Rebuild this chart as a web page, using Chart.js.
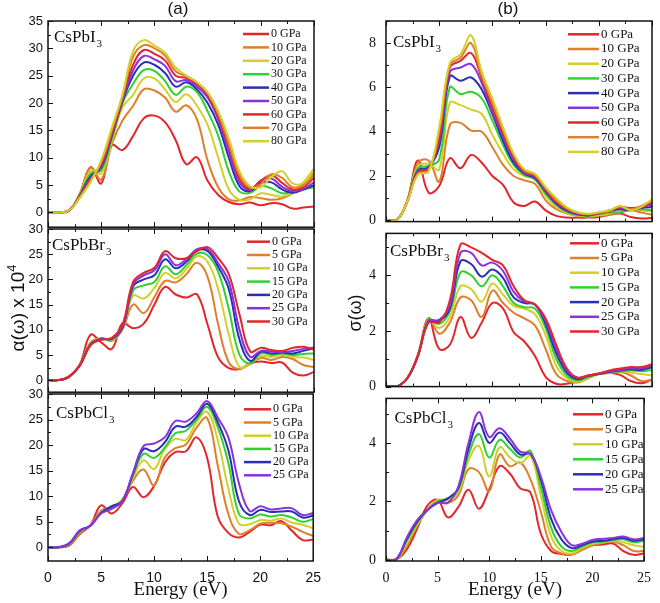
<!DOCTYPE html>
<html>
<head>
<meta charset="utf-8">
<script src="https://cdn.jsdelivr.net/npm/chart.js@4.4.0/dist/chart.umd.min.js"></script>
<style>
  body { margin: 0; background: #fff; }
  #wrap { position: relative; width: 660px; height: 603px; }
  canvas { position: absolute; }
</style>
</head>
<body>
<div id="wrap">
  <canvas id="pA1" width="330" height="240" style="left:0;top:0"></canvas>
  <canvas id="pB1" width="330" height="240" style="left:330px;top:0"></canvas>
  <canvas id="pA2" width="330" height="190" style="left:0;top:215px"></canvas>
  <canvas id="pB2" width="330" height="190" style="left:330px;top:215px"></canvas>
  <canvas id="pA3" width="330" height="223" style="left:0;top:380px"></canvas>
  <canvas id="pB3" width="330" height="223" style="left:330px;top:380px"></canvas>
</div>
<script>
// photon energy grid (eV)
const energy = [0,1,2,3,4,5,6,7,8,9,10,11,12,13,14,15,16,17,18,19,20,21,22,23,24,25];

const pressI = ['0 GPa','10 GPa','20 GPa','30 GPa','40 GPa','50 GPa','60 GPa','70 GPa','80 GPa'];
const pressBr = ['0 GPa','5 GPa','10 GPa','15 GPa','20 GPa','25 GPa','30 GPa'];
const pressCl = ['0 GPa','5 GPa','10 GPa','15 GPa','20 GPa','25 GPa'];

// (a) absorption, CsPbI3
const absI_0  = [0,0,0.3,3.5,8.3,5.3,12.3,11.4,14.0,17.2,17.7,16.5,13.2,8.8,10.1,5.8,3.2,1.9,1.5,1.8,1.3,1.7,1.5,0.7,0.9,1.1];
const absI_10 = [0,0,0.4,3.4,8.2,6.0,12.5,16.8,19.5,22.5,22.3,21.0,18.4,19.6,17.0,9.5,4.6,2.4,2.2,2.8,2.6,2.3,2.6,3.5,5.3,7.3];
const absI_20 = [0,0,0.4,3.3,7.6,7.1,13.0,19.2,21.5,24.5,24.5,22.5,20.2,21.6,19.5,16.0,10.0,4.2,2.3,2.4,3.5,3.2,2.9,3.6,5.5,8.0];
const absI_30 = [0,0,0.4,3.2,7.1,7.7,13.5,20.0,23.5,26.0,25.9,24.0,21.5,23.0,22.0,18.5,14.0,7.5,3.8,3.6,4.8,4.4,3.5,3.8,4.2,4.6];
const absI_40 = [0,0,0.4,3.1,6.6,8.2,14.0,20.3,25.0,27.4,27.0,25.5,23.0,23.8,22.5,20.0,16.0,10.0,4.8,3.9,5.4,5.5,4.2,3.6,4.2,5.0];
const absI_50 = [0,0,0.4,3.0,6.3,8.5,14.3,20.5,26.0,28.6,28.0,26.8,24.0,24.2,23.0,21.0,17.0,11.0,5.5,4.1,5.8,6.2,4.7,3.9,4.3,5.5];
const absI_60 = [0,0,0.4,2.9,6.0,8.8,14.5,21.0,27.0,29.7,29.0,27.8,25.0,24.6,23.5,21.5,17.5,12.0,6.2,4.3,5.8,6.8,5.4,4.2,4.6,6.3];
const absI_70 = [0,0,0.4,2.8,5.8,9.2,15.0,21.3,28.5,30.6,30.0,28.7,25.8,24.9,23.8,21.8,18.0,12.5,6.8,4.5,5.2,7.0,6.3,4.6,5.0,6.8];
const absI_80 = [0,0,0.4,2.7,5.5,9.5,15.5,21.5,29.5,31.5,30.5,29.2,26.5,25.0,23.8,22.0,18.5,13.5,7.5,4.8,4.6,6.5,7.5,5.3,5.4,7.8];

// (b) conductivity, CsPbI3
const sigI_0  = [0,0,0.9,2.7,1.25,1.55,2.8,2.35,2.95,2.6,2.0,1.6,0.8,0.65,0.85,0.45,0.2,0.12,0.12,0.12,0.15,0.25,0.3,0.15,0.08,0.1];
const sigI_10 = [0,0,0.85,2.6,2.7,1.75,4.3,4.4,4.05,4.0,3.3,2.5,2.0,1.8,1.65,0.9,0.5,0.3,0.2,0.16,0.2,0.25,0.35,0.45,0.35,0.25];
const sigI_20 = [0,0,0.85,2.45,2.55,2.3,5.3,5.2,5.0,4.8,3.85,3.0,2.3,2.0,1.85,1.1,0.6,0.33,0.22,0.18,0.22,0.3,0.45,0.55,0.45,0.4];
const sigI_30 = [0,0,0.85,2.35,2.45,2.75,6.0,5.7,5.8,5.5,4.5,3.4,2.5,2.05,1.85,1.2,0.7,0.38,0.25,0.2,0.28,0.35,0.35,0.5,0.5,0.45];
const sigI_40 = [0,0,0.85,2.25,2.4,3.3,6.5,6.3,6.45,5.9,4.8,3.6,2.6,2.1,1.9,1.3,0.75,0.42,0.27,0.22,0.32,0.4,0.5,0.45,0.55,0.6];
const sigI_50 = [0,0,0.85,2.2,2.35,3.55,6.7,6.9,7.05,6.2,4.9,3.8,2.75,2.15,1.95,1.35,0.8,0.46,0.3,0.24,0.3,0.45,0.55,0.5,0.6,0.7];
const sigI_60 = [0,0,0.85,2.15,2.3,3.75,6.9,7.2,7.55,6.4,5.1,3.9,2.85,2.2,2.0,1.4,0.85,0.5,0.32,0.26,0.32,0.4,0.6,0.55,0.6,0.8];
const sigI_70 = [0,0,0.85,2.1,2.25,4.0,7.0,7.35,8.0,6.5,5.3,4.05,2.95,2.25,2.05,1.45,0.9,0.54,0.34,0.28,0.34,0.42,0.62,0.5,0.65,0.88];
const sigI_80 = [0,0,0.85,2.05,2.2,4.2,7.1,7.5,8.35,6.7,5.5,4.2,3.0,2.3,2.1,1.5,1.0,0.58,0.36,0.29,0.36,0.45,0.65,0.45,0.6,0.95];

// (a) absorption, CsPbBr3
const absBr_0  = [0,0,0.8,3.2,9.0,7.5,6.2,11.3,10.3,11.2,15.0,18.5,17.0,16.4,17.0,11.0,4.5,2.4,2.2,3.3,3.7,3.4,3.5,1.5,0.9,1.6];
const absBr_5  = [0,0,0.7,3.1,7.5,8.3,7.8,10.0,15.0,13.3,16.5,19.7,19.4,21.0,23.3,20.5,11.0,3.5,2.2,3.2,4.4,4.0,4.6,4.2,3.0,2.6];
const absBr_10 = [0,0,0.7,3.0,7.3,8.2,8.0,10.2,16.8,16.2,18.3,21.3,20.2,22.0,24.6,23.5,18.0,9.0,2.6,3.3,4.8,4.6,5.0,4.6,4.5,4.0];
const absBr_15 = [0,0,0.7,3.0,7.2,8.2,8.1,10.3,17.8,18.8,19.5,22.6,21.0,22.8,25.1,24.8,21.5,14.0,5.0,3.3,5.3,5.0,5.3,5.0,5.2,5.3];
const absBr_20 = [0,0,0.7,2.9,7.1,8.2,8.2,10.4,18.6,20.0,20.8,24.0,22.2,23.5,25.7,25.6,22.5,18.0,8.0,3.8,5.6,5.3,5.5,5.3,5.8,6.3];
const absBr_25 = [0,0,0.7,2.9,7.0,8.1,8.3,10.5,19.0,20.8,21.8,25.0,22.8,24.0,26.0,26.0,23.2,19.5,10.0,4.6,5.8,5.7,5.6,5.8,6.2,6.5];
const absBr_30 = [0,0,0.7,2.9,6.9,8.0,8.4,11.0,19.5,21.3,22.3,25.6,24.2,24.2,25.6,26.4,24.2,21.0,13.0,5.7,6.4,6.0,5.8,6.4,6.6,6.0];

// (b) conductivity, CsPbBr3
const sigBr_0  = [0,0,0.3,1.15,2.45,1.35,1.5,2.5,1.75,2.3,3.0,2.8,1.95,1.62,1.1,0.35,0.1,0.1,0.2,0.38,0.45,0.5,0.42,0.2,0.12,0.25];
const sigBr_5  = [0,0,0.3,1.15,2.45,1.9,2.3,3.2,3.1,2.5,3.45,3.0,2.65,2.45,2.2,1.35,0.45,0.2,0.15,0.3,0.45,0.48,0.52,0.4,0.2,0.25];
const sigBr_10 = [0,0,0.3,1.12,2.4,2.1,2.5,3.6,3.5,3.05,3.7,3.3,2.9,2.8,2.6,1.85,0.75,0.3,0.17,0.32,0.45,0.5,0.55,0.5,0.45,0.4];
const sigBr_15 = [0,0,0.3,1.1,2.4,2.25,2.7,4.1,4.0,3.6,4.0,3.6,3.0,2.85,2.8,2.1,1.0,0.4,0.22,0.35,0.45,0.52,0.55,0.58,0.55,0.6];
const sigBr_20 = [0,0,0.3,1.1,2.35,2.35,2.8,4.5,4.4,3.95,4.2,3.9,3.2,3.0,2.95,2.25,1.2,0.5,0.27,0.38,0.45,0.52,0.58,0.62,0.6,0.7];
const sigBr_25 = [0,0,0.3,1.1,2.35,2.4,2.9,4.8,4.8,4.35,4.45,4.15,3.4,3.05,2.95,2.35,1.35,0.6,0.32,0.4,0.47,0.55,0.6,0.66,0.65,0.75];
const sigBr_30 = [0,0,0.3,1.1,2.3,2.3,3.1,5.1,5.0,4.8,4.55,4.35,3.6,3.1,2.95,2.45,1.5,0.65,0.32,0.4,0.47,0.58,0.65,0.7,0.7,0.8];

// (a) absorption, CsPbCl3
const absCl_0  = [0,0,0.3,2.6,4.3,8.2,6.6,8.6,11.8,9.8,12.0,16.5,18.6,18.8,21.5,17.5,6.0,2.8,1.9,3.0,4.4,4.3,5.1,3.2,1.4,1.5];
const absCl_5  = [0,0,0.4,2.8,4.3,7.2,7.8,9.3,13.0,15.2,12.1,17.5,19.4,20.1,23.4,25.3,16.0,6.5,2.6,3.3,4.6,4.8,4.7,4.0,3.0,2.2];
const absCl_10 = [0,0,0.5,3.0,4.3,6.9,8.0,9.2,13.5,17.0,15.3,19.2,21.2,21.0,24.5,26.5,21.0,11.5,4.6,4.5,5.3,5.2,5.6,4.8,4.4,3.7];
const absCl_15 = [0,0,0.6,3.1,4.2,6.8,8.0,9.1,14.0,18.3,17.5,19.5,22.3,22.8,25.0,27.5,23.5,16.5,6.5,5.6,6.4,6.0,6.3,5.8,5.0,5.5];
const absCl_20 = [0,0,0.7,3.2,4.2,6.7,8.0,9.0,14.3,19.2,18.8,20.5,23.6,23.6,25.5,28.1,24.5,19.0,9.0,6.3,7.3,6.9,7.0,7.0,5.8,6.2];
const absCl_25 = [0,0,0.8,3.3,4.2,6.6,7.5,9.0,14.5,19.8,20.3,21.5,24.7,24.6,26.2,28.6,25.4,21.5,12.5,7.1,8.0,7.4,7.6,7.6,6.3,6.7];

// (b) conductivity, CsPbCl3
const sigCl_0  = [0,0.02,0.35,1.05,1.85,2.05,1.45,1.8,2.4,1.75,2.4,3.2,2.95,2.45,2.3,0.9,0.3,0.2,0.18,0.35,0.5,0.52,0.56,0.3,0.17,0.22];
const sigCl_5  = [0,0.02,0.45,1.15,1.7,2.05,1.95,2.2,3.1,3.0,2.35,3.6,3.2,3.33,2.75,1.65,0.45,0.22,0.18,0.35,0.5,0.58,0.62,0.5,0.3,0.3];
const sigCl_10 = [0,0.02,0.55,1.2,1.7,2.05,2.05,2.3,3.4,3.9,2.85,3.85,3.5,3.3,3.55,2.2,0.8,0.3,0.22,0.4,0.55,0.6,0.65,0.6,0.5,0.45];
const sigCl_15 = [0,0.02,0.65,1.25,1.7,2.0,2.1,2.4,3.6,4.3,3.5,4.1,3.8,3.5,3.72,2.5,1.1,0.45,0.3,0.45,0.6,0.62,0.68,0.7,0.6,0.65];
const sigCl_20 = [0,0.02,0.7,1.3,1.7,1.95,2.1,2.45,3.8,4.68,4.0,4.35,4.0,3.6,3.62,2.75,1.4,0.7,0.4,0.5,0.62,0.65,0.7,0.75,0.65,0.7];
const sigCl_25 = [0,0.02,0.75,1.35,1.7,1.95,1.95,2.5,4.0,5.05,4.2,4.5,4.15,3.7,3.62,2.85,1.7,0.95,0.5,0.55,0.68,0.72,0.75,0.8,0.7,0.75];

const lineColors = ['#e3262b','#df7f2c','#d3cf2b','#2fd12f','#2a2fb5','#8833dd','#e3262b','#df7f2c','#d3cf2b'];

const SERIF = "'Liberation Serif', 'Times New Roman', serif";
const SANS = "'Liberation Sans', Arial, sans-serif";

// frame, inward ticks, legend and labels drawn on top of the curves
const panelDecor = {
  id: 'panelDecor',
  afterDatasetsDraw(chart, args, o) {
    const ctx = chart.ctx;
    const a = chart.chartArea;
    const xs = chart.scales.x, ys = chart.scales.y;
    const ox = o.left, oy = o.top;
    ctx.save();
    ctx.strokeStyle = '#111';
    ctx.lineWidth = 1;
    ctx.beginPath();
    for (let v = 0; v <= 25; v += 2.5) {
      const px = Math.round(xs.getPixelForValue(v)) + 0.5;
      const len = v % 5 === 0 ? 5 : 3;
      ctx.moveTo(px, a.bottom); ctx.lineTo(px, a.bottom - len);
      ctx.moveTo(px, a.top); ctx.lineTo(px, a.top + len);
    }
    for (let v = 0; v <= ys.max + 1e-9; v += o.minor) {
      const py = Math.round(ys.getPixelForValue(v)) + 0.5;
      const major = Math.abs(v / o.major - Math.round(v / o.major)) < 1e-6;
      ctx.moveTo(a.left, py); ctx.lineTo(a.left + (major ? 5 : 3), py);
    }
    ctx.stroke();
    ctx.lineWidth = 1.5;
    ctx.strokeRect(a.left, a.top, a.right - a.left, a.bottom - a.top);

    // legend
    ctx.textAlign = 'left';
    ctx.textBaseline = 'middle';
    chart.data.datasets.forEach((ds, i) => {
      const y = o.legY - oy + i * o.legDy;
      ctx.strokeStyle = ds.borderColor;
      ctx.lineWidth = 2.5;
      ctx.beginPath();
      ctx.moveTo(o.legX1 - ox, y);
      ctx.lineTo(o.legX2 - ox, y);
      ctx.stroke();
      ctx.fillStyle = '#111';
      ctx.font = o.legFont;
      ctx.fillText(ds.label, o.legTx - ox, y);
    });

    // compound name with subscript
    ctx.textBaseline = 'alphabetic';
    ctx.fillStyle = '#111';
    ctx.font = '17px ' + SERIF;
    ctx.fillText(o.compound, o.compX - ox, o.compY - oy);
    const w = ctx.measureText(o.compound).width;
    ctx.font = '11px ' + SERIF;
    ctx.fillText('3', o.compX - ox + w + 1, o.compY - oy + 5);

    // extra texts
    (o.texts || []).forEach(t => {
      ctx.save();
      ctx.translate(t.x - ox, t.y - oy);
      if (t.rotate) ctx.rotate(-Math.PI / 2);
      ctx.font = t.font;
      const w1 = ctx.measureText(t.text).width;
      let w2 = 0;
      if (t.sup) { ctx.font = t.supFont; w2 = ctx.measureText(t.sup).width; }
      const start = -(w1 + w2) / 2;
      ctx.textAlign = 'left';
      ctx.textBaseline = 'middle';
      ctx.font = t.font;
      ctx.fillText(t.text, start, 0);
      if (t.sup) { ctx.font = t.supFont; ctx.fillText(t.sup, start + w1, -7); }
      ctx.restore();
    });
    ctx.restore();
  }
};

function makePanel(p) {
  const left = p.col === 'L';
  const datasets = p.series.map((vals, i) => ({
    label: p.labels[i],
    data: vals.map((v, k) => ({x: energy[k], y: v})),
    borderColor: lineColors[i],
    borderWidth: 2,
    pointRadius: 0,
    tension: 0.4,
    fill: false,
    order: p.series.length - i
  }));
  const tickFont = {family: left ? SANS : SERIF, size: left ? 13 : 14};
  const yTicks = [];
  for (let v = 0; v <= p.yMax + 1e-9; v += p.major) yTicks.push({value: v});

  new Chart(document.getElementById(p.id), {
    type: 'line',
    data: {datasets: datasets},
    options: {
      responsive: false,
      animation: false,
      devicePixelRatio: 1,
      layout: {padding: {left: 0, right: left ? 16 : 8, top: p.padT, bottom: p.padB}},
      plugins: {
        legend: {display: false},
        tooltip: {enabled: false},
        panelDecor: Object.assign({
          left: left ? 0 : 330, top: p.top,
          major: p.major, minor: p.minor,
          legFont: (left ? 12 : 13) + 'px ' + SERIF
        }, p.decor)
      },
      scales: {
        x: {
          type: 'linear', min: 0, max: 25,
          display: p.showX,
          grid: {display: false, drawTicks: false},
          border: {display: false},
          afterBuildTicks: s => { s.ticks = [0,5,10,15,20,25].map(v => ({value: v})); },
          afterFit: s => { if (p.showX) s.height = 42; },
          ticks: {padding: 9, font: {family: tickFont.family, size: 14}, color: '#111', maxRotation: 0},
          title: {display: true, text: 'Energy (eV)', color: '#111',
                  font: {family: SERIF, size: 19}, padding: {top: 0, bottom: 2}}
        },
        y: {
          type: 'linear', min: p.yMin, max: p.yMax,
          grid: {display: false, drawTicks: false},
          border: {display: false},
          afterBuildTicks: s => { s.ticks = yTicks.slice(); },
          afterFit: s => { s.width = left ? 48 : 56; },
          ticks: {padding: left ? 5 : 10, font: tickFont, color: '#111'}
        }
      }
    },
    plugins: [panelDecor]
  });
}

makePanel({
  id: 'pA1', col: 'L', top: 0, padT: 21, padB: 11, showX: false,
  series: [absI_0, absI_10, absI_20, absI_30, absI_40, absI_50, absI_60, absI_70, absI_80],
  labels: pressI, yMin: -2.7, yMax: 35, major: 5, minor: 2.5,
  decor: {legX1: 243, legX2: 269, legTx: 271, legY: 34, legDy: 13.4,
          compound: 'CsPbI', compX: 54, compY: 42,
          texts: [{text: '(a)', x: 178, y: 9, font: '17px ' + SANS}]}
});
makePanel({
  id: 'pB1', col: 'R', top: 0, padT: 21, padB: 11, showX: false,
  series: [sigI_0, sigI_10, sigI_20, sigI_30, sigI_40, sigI_50, sigI_60, sigI_70, sigI_80],
  labels: pressI, yMin: -0.06, yMax: 9, major: 2, minor: 1,
  decor: {legX1: 568, legX2: 599, legTx: 601, legY: 34.3, legDy: 14.7,
          compound: 'CsPbI', compX: 393, compY: 47,
          texts: [{text: '(b)', x: 508, y: 9, font: '17px ' + SANS}]}
});
makePanel({
  id: 'pA2', col: 'L', top: 215, padT: 14, padB: 11, showX: false,
  series: [absBr_0, absBr_5, absBr_10, absBr_15, absBr_20, absBr_25, absBr_30],
  labels: pressBr, yMin: -2.4, yMax: 30, major: 5, minor: 2.5,
  decor: {legX1: 247, legX2: 270, legTx: 272, legY: 241.7, legDy: 13.3,
          compound: 'CsPbBr', compX: 52, compY: 250,
          texts: [{text: '\u03b1(\u03c9) x 10', sup: '4', x: 19, y: 308, rotate: true,
                   font: '19px ' + SANS, supFont: '13px ' + SANS}]}
});
makePanel({
  id: 'pB2', col: 'R', top: 215, padT: 14, padB: 11, showX: false,
  series: [sigBr_0, sigBr_5, sigBr_10, sigBr_15, sigBr_20, sigBr_25, sigBr_30],
  labels: pressBr, yMin: 0, yMax: 5.5, major: 2, minor: 1,
  decor: {legX1: 570, legX2: 599, legTx: 601, legY: 243.3, legDy: 14.7,
          compound: 'CsPbBr', compX: 390, compY: 255.5,
          texts: [{text: '\u03c3(\u03c9)', x: 356, y: 313, rotate: true, font: '18px ' + SANS}]}
});
makePanel({
  id: 'pA3', col: 'L', top: 380, padT: 14, padB: 0, showX: true,
  series: [absCl_0, absCl_5, absCl_10, absCl_15, absCl_20, absCl_25],
  labels: pressCl, yMin: -2.7, yMax: 30, major: 5, minor: 2.5,
  decor: {legX1: 244, legX2: 271, legTx: 273, legY: 409.3, legDy: 13.2,
          compound: 'CsPbCl', compX: 56, compY: 418}
});
makePanel({
  id: 'pB3', col: 'R', top: 380, padT: 14, padB: 0, showX: true,
  series: [sigCl_0, sigCl_5, sigCl_10, sigCl_15, sigCl_20, sigCl_25],
  labels: pressCl, yMin: -0.04, yMax: 5.52, major: 2, minor: 1,
  decor: {legX1: 573, legX2: 603, legTx: 605, legY: 414.3, legDy: 15,
          compound: 'CsPbCl', compX: 394.5, compY: 423.3}
});
</script>
</body>
</html>
